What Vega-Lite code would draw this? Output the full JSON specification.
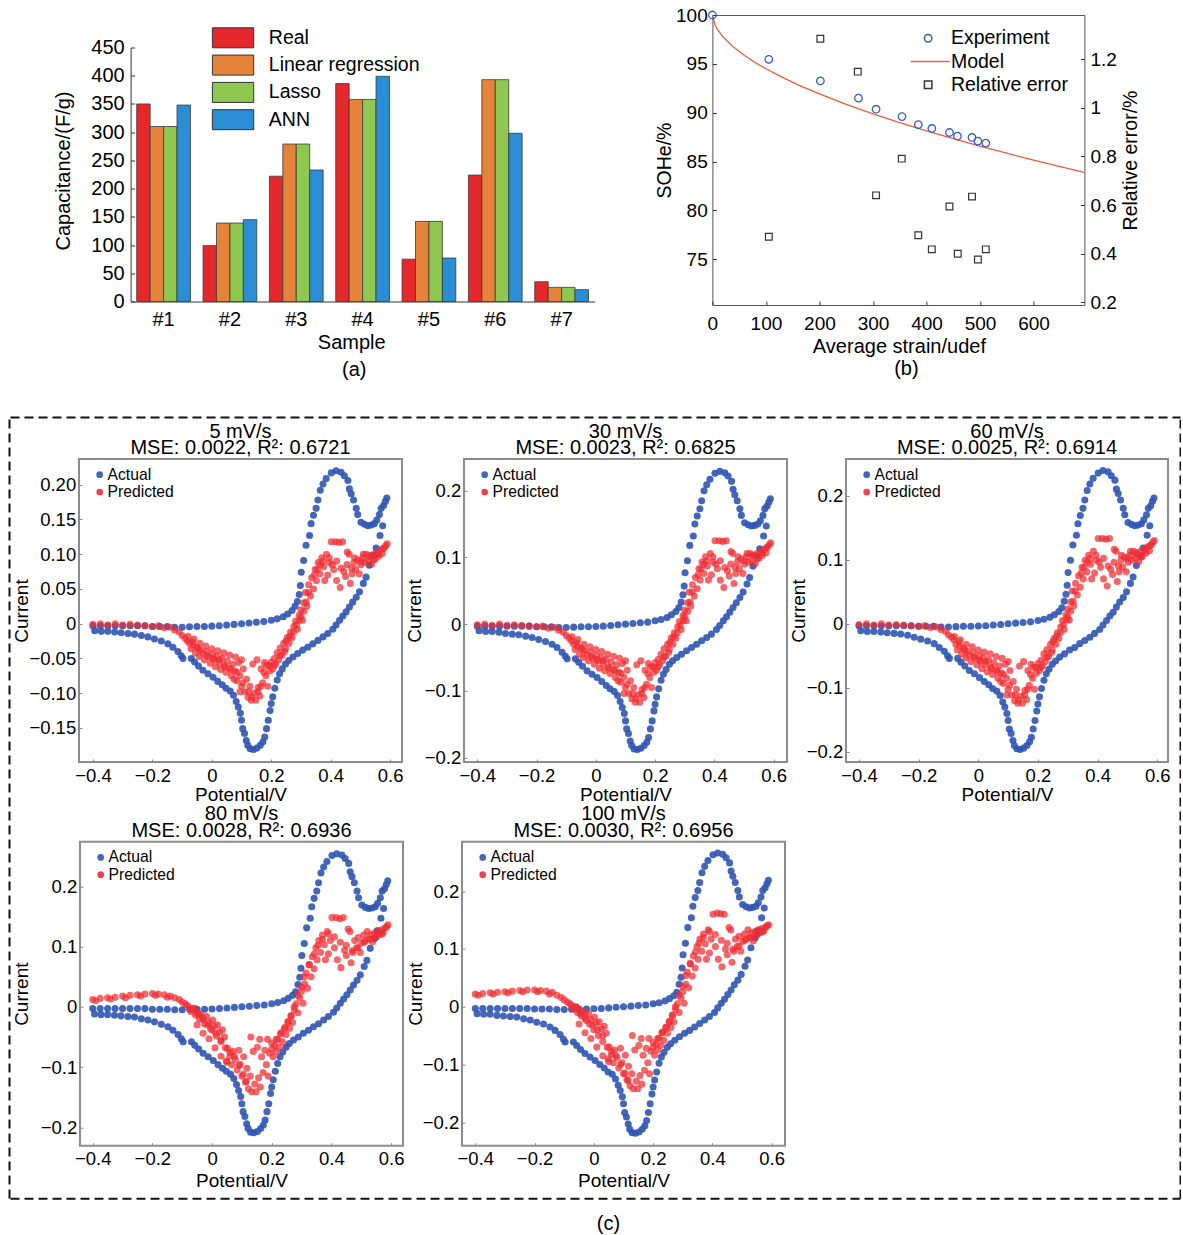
{
"$schema":"https://vega.github.io/schema/vega-lite/v6.json",
"background":"white",
"padding":{"left":9,"top":5,"right":0,"bottom":0},
"config":{
 "font":"Liberation Sans",
 "view":{"stroke":"#8c8c8c","strokeWidth":2},
 "axis":{"labelFont":"Liberation Sans","titleFont":"Liberation Sans","labelFontSize":18.5,"titleFontSize":19,"titleFontWeight":"normal","labelColor":"#000","titleColor":"#000","grid":false,"domain":false,"ticks":true,"tickSize":-3,"tickColor":"#888","labelPadding":6,"labelFlush":false,"labelOverlap":false,"titleBaseline":"middle"},
 "legend":{"labelFont":"Liberation Sans","labelColor":"#000","padding":0},
 "title":{"font":"Liberation Sans","fontSize":20,"fontWeight":"normal","color":"#000","lineHeight":16.5,"offset":1,"anchor":"middle","frame":"group"}
},
"datasets":{
"bars":[{"s":"#1","m":"Real","v":350},{"s":"#1","m":"Linear regression","v":310},{"s":"#1","m":"Lasso","v":310},{"s":"#1","m":"ANN","v":348},{"s":"#2","m":"Real","v":99},{"s":"#2","m":"Linear regression","v":139},{"s":"#2","m":"Lasso","v":139},{"s":"#2","m":"ANN","v":145},{"s":"#3","m":"Real","v":222},{"s":"#3","m":"Linear regression","v":279},{"s":"#3","m":"Lasso","v":279},{"s":"#3","m":"ANN","v":233},{"s":"#4","m":"Real","v":386},{"s":"#4","m":"Linear regression","v":358},{"s":"#4","m":"Lasso","v":358},{"s":"#4","m":"ANN","v":399},{"s":"#5","m":"Real","v":75},{"s":"#5","m":"Linear regression","v":142},{"s":"#5","m":"Lasso","v":142},{"s":"#5","m":"ANN","v":77},{"s":"#6","m":"Real","v":224},{"s":"#6","m":"Linear regression","v":393},{"s":"#6","m":"Lasso","v":393},{"s":"#6","m":"ANN","v":298},{"s":"#7","m":"Real","v":35},{"s":"#7","m":"Linear regression","v":25},{"s":"#7","m":"Lasso","v":25},{"s":"#7","m":"ANN","v":21}],
"exp":[{"x":0,"y":100},{"x":105.4,"y":95.47},{"x":201.7,"y":93.26},{"x":272.9,"y":91.49},{"x":305.8,"y":90.36},{"x":354.3,"y":89.61},{"x":384.7,"y":88.79},{"x":409.9,"y":88.39},{"x":442.9,"y":87.98},{"x":457.8,"y":87.6},{"x":485,"y":87.47},{"x":496,"y":87.09},{"x":510.8,"y":86.89}],
"err":[{"x":105.4,"e":0.47},{"x":201.7,"e":1.284},{"x":271.6,"e":1.149},{"x":305.8,"e":0.64},{"x":353.7,"e":0.791},{"x":384.7,"e":0.476},{"x":409.9,"e":0.418},{"x":442.9,"e":0.594},{"x":458.4,"e":0.4},{"x":485,"e":0.635},{"x":496,"e":0.376},{"x":510.8,"e":0.418}],
"model":[{"x":0,"y":100},{"x":5,"y":98.95},{"x":10,"y":98.47},{"x":20,"y":97.75},{"x":40,"y":96.69},{"x":60,"y":95.86},{"x":80,"y":95.14},{"x":100,"y":94.5},{"x":130,"y":93.64},{"x":160,"y":92.86},{"x":200,"y":91.93},{"x":250,"y":90.86},{"x":300,"y":89.89},{"x":350,"y":88.99},{"x":400,"y":88.15},{"x":450,"y":87.35},{"x":500,"y":86.58},{"x":550,"y":85.86},{"x":600,"y":85.16},{"x":650,"y":84.48},{"x":695,"y":83.9}],
"a1":[{"x":-0.4,"y":-0.003},{"x":-0.375,"y":-0.003},{"x":-0.35,"y":-0.003},{"x":-0.325,"y":-0.003},{"x":-0.3,"y":-0.003},{"x":-0.275,"y":-0.003},{"x":-0.25,"y":-0.003},{"x":-0.225,"y":-0.003},{"x":-0.2,"y":-0.004},{"x":-0.175,"y":-0.004},{"x":-0.15,"y":-0.004},{"x":-0.125,"y":-0.005},{"x":-0.1,"y":-0.005},{"x":-0.075,"y":-0.0045},{"x":-0.05,"y":-0.004},{"x":-0.025,"y":-0.004},{"x":0,"y":-0.0035},{"x":0.025,"y":-0.003},{"x":0.05,"y":-0.002},{"x":0.075,"y":-0.001},{"x":0.1,"y":0},{"x":0.125,"y":0.001},{"x":0.15,"y":0.002},{"x":0.175,"y":0.003},{"x":0.2,"y":0.005},{"x":0.22,"y":0.007},{"x":0.24,"y":0.01},{"x":0.255,"y":0.014},{"x":0.27,"y":0.019},{"x":0.28,"y":0.025},
{"x":0.288,"y":0.032},{"x":0.294,"y":0.042},{"x":0.298,"y":0.055},{"x":0.301,"y":0.074},{"x":0.309,"y":0.091},{"x":0.317,"y":0.113},{"x":0.329,"y":0.127},{"x":0.334,"y":0.144},{"x":0.342,"y":0.156},{"x":0.351,"y":0.166},{"x":0.357,"y":0.178},{"x":0.365,"y":0.192},{"x":0.374,"y":0.201},{"x":0.385,"y":0.209},{"x":0.402,"y":0.217},{"x":0.418,"y":0.22},{"x":0.435,"y":0.218},{"x":0.446,"y":0.213},{"x":0.458,"y":0.206},{"x":0.463,"y":0.194},{"x":0.469,"y":0.187},{"x":0.477,"y":0.178},{"x":0.486,"y":0.166},{"x":0.491,"y":0.157},{"x":0.502,"y":0.146},{"x":0.514,"y":0.143},{"x":0.525,"y":0.141},{"x":0.536,"y":0.142},{"x":0.547,"y":0.144},{"x":0.555,"y":0.149},{"x":0.564,"y":0.157},{"x":0.57,"y":0.166},{"x":0.578,"y":0.17},{"x":0.584,"y":0.176},{"x":0.589,"y":0.181},
{"x":0.575,"y":0.141},{"x":0.566,"y":0.127},{"x":0.553,"y":0.109},{"x":0.544,"y":0.098},{"x":0.53,"y":0.084},{"x":0.519,"y":0.067},{"x":0.51,"y":0.058},{"x":0.497,"y":0.046},{"x":0.486,"y":0.038},{"x":0.474,"y":0.031},{"x":0.463,"y":0.024},{"x":0.452,"y":0.017},{"x":0.441,"y":0.011},{"x":0.43,"y":0.005},{"x":0.418,"y":-0.002},{"x":0.407,"y":-0.008},{"x":0.39,"y":-0.014},{"x":0.374,"y":-0.019},{"x":0.357,"y":-0.024},{"x":0.34,"y":-0.029},{"x":0.323,"y":-0.034},{"x":0.306,"y":-0.038},{"x":0.289,"y":-0.043},{"x":0.273,"y":-0.048},{"x":0.259,"y":-0.053},{"x":0.248,"y":-0.058},{"x":0.237,"y":-0.065},{"x":0.228,"y":-0.072},{"x":0.22,"y":-0.081},{"x":0.212,"y":-0.093},{"x":0.205,"y":-0.105},{"x":0.2,"y":-0.115},{"x":0.196,"y":-0.125},{"x":0.19,"y":-0.139},{"x":0.184,"y":-0.151},{"x":0.178,"y":-0.163},{"x":0.172,"y":-0.17},{"x":0.163,"y":-0.175},{"x":0.152,"y":-0.179},{"x":0.14,"y":-0.181},{"x":0.129,"y":-0.18},{"x":0.121,"y":-0.175},{"x":0.116,"y":-0.168},{"x":0.11,"y":-0.158},{"x":0.104,"y":-0.151},{"x":0.1,"y":-0.139},{"x":0.096,"y":-0.129},{"x":0.089,"y":-0.12},{"x":0.082,"y":-0.112},{"x":0.073,"y":-0.103},{"x":0.062,"y":-0.097},{"x":0.048,"y":-0.093},{"x":0.035,"y":-0.088},{"x":0.02,"y":-0.083},{"x":0.004,"y":-0.077},{"x":-0.013,"y":-0.072},{"x":-0.03,"y":-0.067},{"x":-0.045,"y":-0.061},{"x":-0.058,"y":-0.055},{"x":-0.069,"y":-0.05},{"x":-0.097,"y":-0.05},{"x":-0.103,"y":-0.046},{"x":-0.114,"y":-0.04},{"x":-0.131,"y":-0.034},{"x":-0.148,"y":-0.029},{"x":-0.17,"y":-0.025},{"x":-0.193,"y":-0.022},{"x":-0.215,"y":-0.019},{"x":-0.237,"y":-0.017},{"x":-0.26,"y":-0.015},{"x":-0.282,"y":-0.014},{"x":-0.305,"y":-0.013},{"x":-0.327,"y":-0.012},{"x":-0.35,"y":-0.011},{"x":-0.372,"y":-0.011},{"x":-0.394,"y":-0.01}],
"a2":[{"x":-0.4,"y":-0.003},{"x":-0.375,"y":-0.003},{"x":-0.35,"y":-0.003},{"x":-0.325,"y":-0.003},{"x":-0.3,"y":-0.003},{"x":-0.275,"y":-0.003},{"x":-0.25,"y":-0.003},{"x":-0.225,"y":-0.003},{"x":-0.2,"y":-0.004},{"x":-0.175,"y":-0.004},{"x":-0.15,"y":-0.004},{"x":-0.125,"y":-0.005},{"x":-0.1,"y":-0.005},{"x":-0.075,"y":-0.0045},{"x":-0.05,"y":-0.004},{"x":-0.025,"y":-0.004},{"x":0,"y":-0.0035},{"x":0.025,"y":-0.003},{"x":0.05,"y":-0.002},{"x":0.075,"y":-0.001},{"x":0.1,"y":0},{"x":0.125,"y":0.001},{"x":0.15,"y":0.002},{"x":0.175,"y":0.003},{"x":0.2,"y":0.005},{"x":0.22,"y":0.007},{"x":0.24,"y":0.01},{"x":0.255,"y":0.014},{"x":0.27,"y":0.019},{"x":0.28,"y":0.025},
{"x":0.288,"y":0.033},{"x":0.294,"y":0.044},{"x":0.298,"y":0.057},{"x":0.301,"y":0.077},{"x":0.309,"y":0.095},{"x":0.317,"y":0.118},{"x":0.329,"y":0.132},{"x":0.334,"y":0.15},{"x":0.342,"y":0.162},{"x":0.351,"y":0.173},{"x":0.357,"y":0.185},{"x":0.365,"y":0.2},{"x":0.374,"y":0.209},{"x":0.385,"y":0.217},{"x":0.402,"y":0.226},{"x":0.418,"y":0.229},{"x":0.435,"y":0.227},{"x":0.446,"y":0.222},{"x":0.458,"y":0.214},{"x":0.463,"y":0.202},{"x":0.469,"y":0.194},{"x":0.477,"y":0.185},{"x":0.486,"y":0.173},{"x":0.491,"y":0.163},{"x":0.502,"y":0.152},{"x":0.514,"y":0.149},{"x":0.525,"y":0.147},{"x":0.536,"y":0.148},{"x":0.547,"y":0.15},{"x":0.555,"y":0.155},{"x":0.564,"y":0.163},{"x":0.57,"y":0.173},{"x":0.578,"y":0.177},{"x":0.584,"y":0.183},{"x":0.589,"y":0.188},
{"x":0.575,"y":0.147},{"x":0.566,"y":0.132},{"x":0.553,"y":0.113},{"x":0.544,"y":0.102},{"x":0.53,"y":0.087},{"x":0.519,"y":0.07},{"x":0.51,"y":0.06},{"x":0.497,"y":0.048},{"x":0.486,"y":0.04},{"x":0.474,"y":0.032},{"x":0.463,"y":0.025},{"x":0.452,"y":0.018},{"x":0.441,"y":0.011},{"x":0.43,"y":0.005},{"x":0.418,"y":-0.002},{"x":0.407,"y":-0.008},{"x":0.39,"y":-0.015},{"x":0.374,"y":-0.02},{"x":0.357,"y":-0.025},{"x":0.34,"y":-0.03},{"x":0.323,"y":-0.035},{"x":0.306,"y":-0.04},{"x":0.289,"y":-0.045},{"x":0.273,"y":-0.05},{"x":0.259,"y":-0.055},{"x":0.248,"y":-0.06},{"x":0.237,"y":-0.068},{"x":0.228,"y":-0.075},{"x":0.22,"y":-0.084},{"x":0.212,"y":-0.097},{"x":0.205,"y":-0.109},{"x":0.2,"y":-0.12},{"x":0.196,"y":-0.13},{"x":0.19,"y":-0.145},{"x":0.184,"y":-0.157},{"x":0.178,"y":-0.17},{"x":0.172,"y":-0.177},{"x":0.163,"y":-0.182},{"x":0.152,"y":-0.186},{"x":0.14,"y":-0.188},{"x":0.129,"y":-0.187},{"x":0.121,"y":-0.182},{"x":0.116,"y":-0.175},{"x":0.11,"y":-0.164},{"x":0.104,"y":-0.157},{"x":0.1,"y":-0.145},{"x":0.096,"y":-0.134},{"x":0.089,"y":-0.125},{"x":0.082,"y":-0.116},{"x":0.073,"y":-0.107},{"x":0.062,"y":-0.101},{"x":0.048,"y":-0.097},{"x":0.035,"y":-0.092},{"x":0.02,"y":-0.086},{"x":0.004,"y":-0.08},{"x":-0.013,"y":-0.075},{"x":-0.03,"y":-0.07},{"x":-0.045,"y":-0.063},{"x":-0.058,"y":-0.057},{"x":-0.069,"y":-0.052},{"x":-0.097,"y":-0.052},{"x":-0.103,"y":-0.048},{"x":-0.114,"y":-0.042},{"x":-0.131,"y":-0.035},{"x":-0.148,"y":-0.03},{"x":-0.17,"y":-0.026},{"x":-0.193,"y":-0.023},{"x":-0.215,"y":-0.02},{"x":-0.237,"y":-0.018},{"x":-0.26,"y":-0.016},{"x":-0.282,"y":-0.015},{"x":-0.305,"y":-0.014},{"x":-0.327,"y":-0.012},{"x":-0.35,"y":-0.011},{"x":-0.372,"y":-0.011},{"x":-0.394,"y":-0.01}],
"a3":[{"x":-0.4,"y":-0.003},{"x":-0.375,"y":-0.003},{"x":-0.35,"y":-0.003},{"x":-0.325,"y":-0.003},{"x":-0.3,"y":-0.003},{"x":-0.275,"y":-0.003},{"x":-0.25,"y":-0.003},{"x":-0.225,"y":-0.003},{"x":-0.2,"y":-0.004},{"x":-0.175,"y":-0.004},{"x":-0.15,"y":-0.004},{"x":-0.125,"y":-0.005},{"x":-0.1,"y":-0.005},{"x":-0.075,"y":-0.0045},{"x":-0.05,"y":-0.004},{"x":-0.025,"y":-0.004},{"x":0,"y":-0.0035},{"x":0.025,"y":-0.003},{"x":0.05,"y":-0.002},{"x":0.075,"y":-0.001},{"x":0.1,"y":0},{"x":0.125,"y":0.001},{"x":0.15,"y":0.002},{"x":0.175,"y":0.003},{"x":0.2,"y":0.005},{"x":0.22,"y":0.007},{"x":0.24,"y":0.01},{"x":0.255,"y":0.014},{"x":0.27,"y":0.019},{"x":0.28,"y":0.025},
{"x":0.288,"y":0.035},{"x":0.294,"y":0.046},{"x":0.298,"y":0.06},{"x":0.301,"y":0.08},{"x":0.309,"y":0.099},{"x":0.317,"y":0.123},{"x":0.329,"y":0.138},{"x":0.334,"y":0.156},{"x":0.342,"y":0.169},{"x":0.351,"y":0.18},{"x":0.357,"y":0.193},{"x":0.365,"y":0.208},{"x":0.374,"y":0.218},{"x":0.385,"y":0.227},{"x":0.402,"y":0.235},{"x":0.418,"y":0.239},{"x":0.435,"y":0.237},{"x":0.446,"y":0.231},{"x":0.458,"y":0.224},{"x":0.463,"y":0.21},{"x":0.469,"y":0.203},{"x":0.477,"y":0.193},{"x":0.486,"y":0.18},{"x":0.491,"y":0.17},{"x":0.502,"y":0.158},{"x":0.514,"y":0.155},{"x":0.525,"y":0.153},{"x":0.536,"y":0.154},{"x":0.547,"y":0.156},{"x":0.555,"y":0.162},{"x":0.564,"y":0.17},{"x":0.57,"y":0.18},{"x":0.578,"y":0.184},{"x":0.584,"y":0.191},{"x":0.589,"y":0.196},
{"x":0.575,"y":0.153},{"x":0.566,"y":0.138},{"x":0.553,"y":0.118},{"x":0.544,"y":0.106},{"x":0.53,"y":0.091},{"x":0.519,"y":0.073},{"x":0.51,"y":0.063},{"x":0.497,"y":0.05},{"x":0.486,"y":0.041},{"x":0.474,"y":0.034},{"x":0.463,"y":0.026},{"x":0.452,"y":0.018},{"x":0.441,"y":0.012},{"x":0.43,"y":0.005},{"x":0.418,"y":-0.002},{"x":0.407,"y":-0.009},{"x":0.39,"y":-0.015},{"x":0.374,"y":-0.021},{"x":0.357,"y":-0.026},{"x":0.34,"y":-0.031},{"x":0.323,"y":-0.037},{"x":0.306,"y":-0.041},{"x":0.289,"y":-0.047},{"x":0.273,"y":-0.052},{"x":0.259,"y":-0.058},{"x":0.248,"y":-0.063},{"x":0.237,"y":-0.071},{"x":0.228,"y":-0.078},{"x":0.22,"y":-0.088},{"x":0.212,"y":-0.101},{"x":0.205,"y":-0.114},{"x":0.2,"y":-0.125},{"x":0.196,"y":-0.136},{"x":0.19,"y":-0.151},{"x":0.184,"y":-0.164},{"x":0.178,"y":-0.177},{"x":0.172,"y":-0.184},{"x":0.163,"y":-0.19},{"x":0.152,"y":-0.194},{"x":0.14,"y":-0.196},{"x":0.129,"y":-0.195},{"x":0.121,"y":-0.19},{"x":0.116,"y":-0.182},{"x":0.11,"y":-0.171},{"x":0.104,"y":-0.164},{"x":0.1,"y":-0.151},{"x":0.096,"y":-0.14},{"x":0.089,"y":-0.13},{"x":0.082,"y":-0.122},{"x":0.073,"y":-0.112},{"x":0.062,"y":-0.105},{"x":0.048,"y":-0.101},{"x":0.035,"y":-0.095},{"x":0.02,"y":-0.09},{"x":0.004,"y":-0.084},{"x":-0.013,"y":-0.078},{"x":-0.03,"y":-0.073},{"x":-0.045,"y":-0.066},{"x":-0.058,"y":-0.06},{"x":-0.069,"y":-0.054},{"x":-0.097,"y":-0.054},{"x":-0.103,"y":-0.05},{"x":-0.114,"y":-0.043},{"x":-0.131,"y":-0.037},{"x":-0.148,"y":-0.031},{"x":-0.17,"y":-0.027},{"x":-0.193,"y":-0.024},{"x":-0.215,"y":-0.021},{"x":-0.237,"y":-0.018},{"x":-0.26,"y":-0.016},{"x":-0.282,"y":-0.015},{"x":-0.305,"y":-0.014},{"x":-0.327,"y":-0.013},{"x":-0.35,"y":-0.012},{"x":-0.372,"y":-0.012},{"x":-0.394,"y":-0.011}],
"a4":[{"x":-0.4,"y":-0.003},{"x":-0.375,"y":-0.003},{"x":-0.35,"y":-0.003},{"x":-0.325,"y":-0.003},{"x":-0.3,"y":-0.003},{"x":-0.275,"y":-0.003},{"x":-0.25,"y":-0.003},{"x":-0.225,"y":-0.003},{"x":-0.2,"y":-0.004},{"x":-0.175,"y":-0.004},{"x":-0.15,"y":-0.004},{"x":-0.125,"y":-0.005},{"x":-0.1,"y":-0.005},{"x":-0.075,"y":-0.0045},{"x":-0.05,"y":-0.004},{"x":-0.025,"y":-0.004},{"x":0,"y":-0.0035},{"x":0.025,"y":-0.003},{"x":0.05,"y":-0.002},{"x":0.075,"y":-0.001},{"x":0.1,"y":0},{"x":0.125,"y":0.001},{"x":0.15,"y":0.002},{"x":0.175,"y":0.003},{"x":0.2,"y":0.005},{"x":0.22,"y":0.007},{"x":0.24,"y":0.01},{"x":0.255,"y":0.014},{"x":0.27,"y":0.019},{"x":0.28,"y":0.025},
{"x":0.288,"y":0.037},{"x":0.294,"y":0.049},{"x":0.298,"y":0.064},{"x":0.301,"y":0.085},{"x":0.309,"y":0.105},{"x":0.317,"y":0.131},{"x":0.329,"y":0.147},{"x":0.334,"y":0.166},{"x":0.342,"y":0.18},{"x":0.351,"y":0.192},{"x":0.357,"y":0.206},{"x":0.365,"y":0.222},{"x":0.374,"y":0.232},{"x":0.385,"y":0.241},{"x":0.402,"y":0.251},{"x":0.418,"y":0.254},{"x":0.435,"y":0.252},{"x":0.446,"y":0.246},{"x":0.458,"y":0.238},{"x":0.463,"y":0.224},{"x":0.469,"y":0.216},{"x":0.477,"y":0.206},{"x":0.486,"y":0.192},{"x":0.491,"y":0.181},{"x":0.502,"y":0.169},{"x":0.514,"y":0.165},{"x":0.525,"y":0.163},{"x":0.536,"y":0.164},{"x":0.547,"y":0.166},{"x":0.555,"y":0.172},{"x":0.564,"y":0.181},{"x":0.57,"y":0.192},{"x":0.578,"y":0.196},{"x":0.584,"y":0.203},{"x":0.589,"y":0.209},
{"x":0.575,"y":0.163},{"x":0.566,"y":0.147},{"x":0.553,"y":0.126},{"x":0.544,"y":0.113},{"x":0.53,"y":0.097},{"x":0.519,"y":0.077},{"x":0.51,"y":0.067},{"x":0.497,"y":0.053},{"x":0.486,"y":0.044},{"x":0.474,"y":0.036},{"x":0.463,"y":0.028},{"x":0.452,"y":0.02},{"x":0.441,"y":0.013},{"x":0.43,"y":0.006},{"x":0.418,"y":-0.002},{"x":0.407,"y":-0.009},{"x":0.39,"y":-0.016},{"x":0.374,"y":-0.022},{"x":0.357,"y":-0.028},{"x":0.34,"y":-0.033},{"x":0.323,"y":-0.039},{"x":0.306,"y":-0.044},{"x":0.289,"y":-0.05},{"x":0.273,"y":-0.055},{"x":0.259,"y":-0.061},{"x":0.248,"y":-0.067},{"x":0.237,"y":-0.075},{"x":0.228,"y":-0.083},{"x":0.22,"y":-0.094},{"x":0.212,"y":-0.107},{"x":0.205,"y":-0.121},{"x":0.2,"y":-0.133},{"x":0.196,"y":-0.144},{"x":0.19,"y":-0.161},{"x":0.184,"y":-0.174},{"x":0.178,"y":-0.188},{"x":0.172,"y":-0.196},{"x":0.163,"y":-0.202},{"x":0.152,"y":-0.207},{"x":0.14,"y":-0.209},{"x":0.129,"y":-0.208},{"x":0.121,"y":-0.202},{"x":0.116,"y":-0.194},{"x":0.11,"y":-0.182},{"x":0.104,"y":-0.174},{"x":0.1,"y":-0.161},{"x":0.096,"y":-0.149},{"x":0.089,"y":-0.139},{"x":0.082,"y":-0.129},{"x":0.073,"y":-0.119},{"x":0.062,"y":-0.112},{"x":0.048,"y":-0.107},{"x":0.035,"y":-0.102},{"x":0.02,"y":-0.096},{"x":0.004,"y":-0.089},{"x":-0.013,"y":-0.083},{"x":-0.03,"y":-0.077},{"x":-0.045,"y":-0.07},{"x":-0.058,"y":-0.064},{"x":-0.069,"y":-0.058},{"x":-0.097,"y":-0.058},{"x":-0.103,"y":-0.053},{"x":-0.114,"y":-0.046},{"x":-0.131,"y":-0.039},{"x":-0.148,"y":-0.033},{"x":-0.17,"y":-0.029},{"x":-0.193,"y":-0.025},{"x":-0.215,"y":-0.022},{"x":-0.237,"y":-0.02},{"x":-0.26,"y":-0.017},{"x":-0.282,"y":-0.016},{"x":-0.305,"y":-0.015},{"x":-0.327,"y":-0.014},{"x":-0.35,"y":-0.013},{"x":-0.372,"y":-0.013},{"x":-0.394,"y":-0.012}],
"a5":[{"x":-0.4,"y":-0.003},{"x":-0.375,"y":-0.003},{"x":-0.35,"y":-0.003},{"x":-0.325,"y":-0.003},{"x":-0.3,"y":-0.003},{"x":-0.275,"y":-0.003},{"x":-0.25,"y":-0.003},{"x":-0.225,"y":-0.003},{"x":-0.2,"y":-0.004},{"x":-0.175,"y":-0.004},{"x":-0.15,"y":-0.004},{"x":-0.125,"y":-0.005},{"x":-0.1,"y":-0.005},{"x":-0.075,"y":-0.0045},{"x":-0.05,"y":-0.004},{"x":-0.025,"y":-0.004},{"x":0,"y":-0.0035},{"x":0.025,"y":-0.003},{"x":0.05,"y":-0.002},{"x":0.075,"y":-0.001},{"x":0.1,"y":0},{"x":0.125,"y":0.001},{"x":0.15,"y":0.002},{"x":0.175,"y":0.003},{"x":0.2,"y":0.005},{"x":0.22,"y":0.007},{"x":0.24,"y":0.01},{"x":0.255,"y":0.014},{"x":0.27,"y":0.019},{"x":0.28,"y":0.025},
{"x":0.288,"y":0.039},{"x":0.294,"y":0.051},{"x":0.298,"y":0.067},{"x":0.301,"y":0.09},{"x":0.309,"y":0.11},{"x":0.317,"y":0.137},{"x":0.329,"y":0.154},{"x":0.334,"y":0.174},{"x":0.342,"y":0.189},{"x":0.351,"y":0.201},{"x":0.357,"y":0.215},{"x":0.365,"y":0.232},{"x":0.374,"y":0.243},{"x":0.385,"y":0.253},{"x":0.402,"y":0.263},{"x":0.418,"y":0.266},{"x":0.435,"y":0.264},{"x":0.446,"y":0.258},{"x":0.458,"y":0.249},{"x":0.463,"y":0.235},{"x":0.469,"y":0.226},{"x":0.477,"y":0.215},{"x":0.486,"y":0.201},{"x":0.491,"y":0.19},{"x":0.502,"y":0.177},{"x":0.514,"y":0.173},{"x":0.525,"y":0.171},{"x":0.536,"y":0.172},{"x":0.547,"y":0.174},{"x":0.555,"y":0.18},{"x":0.564,"y":0.19},{"x":0.57,"y":0.201},{"x":0.578,"y":0.206},{"x":0.584,"y":0.213},{"x":0.589,"y":0.219},
{"x":0.575,"y":0.171},{"x":0.566,"y":0.154},{"x":0.553,"y":0.132},{"x":0.544,"y":0.119},{"x":0.53,"y":0.102},{"x":0.519,"y":0.081},{"x":0.51,"y":0.07},{"x":0.497,"y":0.056},{"x":0.486,"y":0.046},{"x":0.474,"y":0.038},{"x":0.463,"y":0.029},{"x":0.452,"y":0.021},{"x":0.441,"y":0.013},{"x":0.43,"y":0.006},{"x":0.418,"y":-0.002},{"x":0.407,"y":-0.01},{"x":0.39,"y":-0.017},{"x":0.374,"y":-0.023},{"x":0.357,"y":-0.029},{"x":0.34,"y":-0.035},{"x":0.323,"y":-0.041},{"x":0.306,"y":-0.046},{"x":0.289,"y":-0.052},{"x":0.273,"y":-0.058},{"x":0.259,"y":-0.064},{"x":0.248,"y":-0.07},{"x":0.237,"y":-0.079},{"x":0.228,"y":-0.087},{"x":0.22,"y":-0.098},{"x":0.212,"y":-0.113},{"x":0.205,"y":-0.127},{"x":0.2,"y":-0.139},{"x":0.196,"y":-0.151},{"x":0.19,"y":-0.168},{"x":0.184,"y":-0.183},{"x":0.178,"y":-0.197},{"x":0.172,"y":-0.206},{"x":0.163,"y":-0.212},{"x":0.152,"y":-0.217},{"x":0.14,"y":-0.219},{"x":0.129,"y":-0.218},{"x":0.121,"y":-0.212},{"x":0.116,"y":-0.203},{"x":0.11,"y":-0.191},{"x":0.104,"y":-0.183},{"x":0.1,"y":-0.168},{"x":0.096,"y":-0.156},{"x":0.089,"y":-0.145},{"x":0.082,"y":-0.136},{"x":0.073,"y":-0.125},{"x":0.062,"y":-0.117},{"x":0.048,"y":-0.113},{"x":0.035,"y":-0.106},{"x":0.02,"y":-0.1},{"x":0.004,"y":-0.093},{"x":-0.013,"y":-0.087},{"x":-0.03,"y":-0.081},{"x":-0.045,"y":-0.074},{"x":-0.058,"y":-0.067},{"x":-0.069,"y":-0.061},{"x":-0.097,"y":-0.061},{"x":-0.103,"y":-0.056},{"x":-0.114,"y":-0.048},{"x":-0.131,"y":-0.041},{"x":-0.148,"y":-0.035},{"x":-0.17,"y":-0.03},{"x":-0.193,"y":-0.027},{"x":-0.215,"y":-0.023},{"x":-0.237,"y":-0.021},{"x":-0.26,"y":-0.018},{"x":-0.282,"y":-0.017},{"x":-0.305,"y":-0.016},{"x":-0.327,"y":-0.015},{"x":-0.35,"y":-0.013},{"x":-0.372,"y":-0.013},{"x":-0.394,"y":-0.012}],
"p1":[{"x":-0.4,"y":-0.001},{"x":-0.375,"y":0},{"x":-0.35,"y":-0.002},{"x":-0.325,"y":0},{"x":-0.3,"y":-0.002},{"x":-0.275,"y":-0.001},{"x":-0.25,"y":-0.002},{"x":-0.225,"y":-0.003},{"x":-0.2,"y":-0.004},{"x":-0.18,"y":-0.003},{"x":-0.16,"y":-0.006},{"x":-0.14,"y":-0.005},{"x":-0.125,"y":-0.009},{"x":-0.11,"y":-0.012},{"x":-0.1,"y":-0.017},{"x":-0.09,"y":-0.021},{"x":-0.082,"y":-0.025},
{"x":-0.075,"y":-0.028},{"x":-0.07,"y":-0.036},{"x":-0.062,"y":-0.031},{"x":-0.055,"y":-0.042},{"x":-0.05,"y":-0.034},{"x":-0.042,"y":-0.047},{"x":-0.038,"y":-0.038},{"x":-0.03,"y":-0.043},{"x":-0.025,"y":-0.052},{"x":-0.018,"y":-0.04},{"x":-0.01,"y":-0.048},{"x":-0.005,"y":-0.057},{"x":0.002,"y":-0.044},{"x":0.008,"y":-0.052},{"x":0.012,"y":-0.062},{"x":0.018,"y":-0.047},{"x":0.025,"y":-0.057},{"x":0.03,"y":-0.066},{"x":0.035,"y":-0.05},{"x":0.042,"y":-0.06},{"x":0.048,"y":-0.07},{"x":0.052,"y":-0.054},{"x":0.06,"y":-0.064},{"x":0.066,"y":-0.075},{"x":0.07,"y":-0.058},{"x":0.078,"y":-0.068},{"x":0.084,"y":-0.082},{"x":0.09,"y":-0.056},{"x":0.095,"y":-0.075},{"x":0.1,"y":-0.09},{"x":0.106,"y":-0.065},{"x":0.112,"y":-0.098},{"x":0.117,"y":-0.08},{"x":0.122,"y":-0.106},{"x":0.128,"y":-0.09},{"x":0.133,"y":-0.11},{"x":0.138,"y":-0.058},{"x":0.143,"y":-0.1},{"x":0.148,"y":-0.11},{"x":0.152,"y":-0.052},{"x":0.156,"y":-0.092},{"x":0.162,"y":-0.104},{"x":0.166,"y":-0.065},{"x":0.171,"y":-0.085},{"x":0.177,"y":-0.056},{"x":0.182,"y":-0.075},{"x":0.188,"y":-0.09},{"x":0.193,"y":-0.06},{"x":0.2,"y":-0.055},{"x":0.205,"y":-0.065},{"x":0.21,"y":-0.05},{"x":0.215,"y":-0.058},{"x":0.22,"y":-0.042},{"x":0.225,"y":-0.052},{"x":0.23,"y":-0.035},{"x":0.236,"y":-0.045},{"x":0.242,"y":-0.028},{"x":0.248,"y":-0.036},{"x":0.254,"y":-0.02},{"x":0.26,"y":-0.028},{"x":0.265,"y":-0.012},{"x":0.27,"y":-0.02},{"x":0.276,"y":-0.004},{"x":0.282,"y":0.004},{"x":0.288,"y":-0.008},{"x":0.294,"y":0.012},{"x":0.3,"y":0.02},{"x":0.305,"y":0.005},{"x":0.31,"y":0.03},
{"x":0.315,"y":0.045},{"x":0.32,"y":0.025},{"x":0.326,"y":0.056},{"x":0.332,"y":0.04},{"x":0.336,"y":0.066},{"x":0.342,"y":0.05},{"x":0.348,"y":0.078},{"x":0.352,"y":0.062},{"x":0.358,"y":0.088},{"x":0.364,"y":0.072},{"x":0.37,"y":0.095},{"x":0.376,"y":0.082},{"x":0.38,"y":0.062},{"x":0.386,"y":0.1},{"x":0.39,"y":0.07},{"x":0.396,"y":0.088},{"x":0.402,"y":0.118},{"x":0.41,"y":0.078},{"x":0.416,"y":0.118},{"x":0.42,"y":0.062},{"x":0.428,"y":0.117},{"x":0.432,"y":0.052},{"x":0.44,"y":0.118},{"x":0.444,"y":0.075},{"x":0.45,"y":0.068},{"x":0.456,"y":0.103},{"x":0.462,"y":0.1},{"x":0.466,"y":0.058},{"x":0.472,"y":0.072},{"x":0.478,"y":0.088},{"x":0.484,"y":0.078},{"x":0.49,"y":0.092},{"x":0.496,"y":0.072},{"x":0.502,"y":0.085},{"x":0.508,"y":0.095},{"x":0.514,"y":0.088},{"x":0.52,"y":0.1},{"x":0.526,"y":0.09},{"x":0.532,"y":0.096},{"x":0.538,"y":0.086},{"x":0.544,"y":0.1},{"x":0.55,"y":0.093},{"x":0.556,"y":0.103},{"x":0.562,"y":0.097},{"x":0.568,"y":0.106},{"x":0.574,"y":0.101},{"x":0.58,"y":0.109},{"x":0.585,"y":0.112},{"x":0.59,"y":0.115},
{"x":-0.08,"y":-0.018},{"x":-0.06,"y":-0.022},{"x":-0.04,"y":-0.028},{"x":-0.02,"y":-0.032},{"x":0,"y":-0.036},{"x":0.02,"y":-0.039},{"x":0.04,"y":-0.042},{"x":0.06,"y":-0.045},{"x":0.08,"y":-0.048},{"x":0.1,"y":-0.052},{"x":-0.065,"y":-0.026},{"x":-0.045,"y":-0.036},{"x":-0.015,"y":-0.046},{"x":0.005,"y":-0.05},{"x":0.025,"y":-0.052},{"x":0.045,"y":-0.062},{"x":0.065,"y":-0.066},{"x":0.075,"y":-0.08},{"x":0.085,"y":-0.07},{"x":0.095,"y":-0.098},{"x":0.105,"y":-0.085},{"x":0.125,"y":-0.098},{"x":0.135,"y":-0.105},{"x":0.155,"y":-0.098},{"x":0.165,"y":-0.09},{"x":0.175,"y":-0.07},{"x":0.185,"y":-0.06},{"x":0.195,"y":-0.068},{"x":0.21,"y":-0.06},{"x":0.23,"y":-0.046},{"x":0.245,"y":-0.04},{"x":0.25,"y":-0.025},{"x":0.262,"y":-0.018},{"x":0.275,"y":-0.012},{"x":0.285,"y":-0.002},{"x":0.295,"y":0.005},{"x":0.3,"y":0.01},{"x":0.31,"y":0.018},{"x":0.318,"y":0.031},{"x":0.325,"y":0.045},{"x":0.345,"y":0.07},{"x":0.355,"y":0.078},{"x":0.365,"y":0.085},{"x":0.375,"y":0.09},{"x":0.395,"y":0.095},{"x":0.405,"y":0.085},{"x":0.42,"y":0.09},{"x":0.435,"y":0.08},{"x":0.455,"y":0.085},{"x":0.47,"y":0.08},{"x":0.48,"y":0.095},{"x":0.5,"y":0.09},{"x":0.51,"y":0.1},{"x":0.53,"y":0.098},{"x":0.545,"y":0.092},{"x":0.56,"y":0.1},{"x":0.575,"y":0.108}],
"p2":[{"x":-0.4,"y":-0.001},{"x":-0.375,"y":0},{"x":-0.35,"y":-0.002},{"x":-0.325,"y":0},{"x":-0.3,"y":-0.002},{"x":-0.275,"y":-0.001},{"x":-0.25,"y":-0.002},{"x":-0.225,"y":-0.003},{"x":-0.2,"y":-0.004},{"x":-0.18,"y":-0.003},{"x":-0.16,"y":-0.006},{"x":-0.14,"y":-0.005},{"x":-0.125,"y":-0.009},{"x":-0.11,"y":-0.012},{"x":-0.1,"y":-0.017},{"x":-0.09,"y":-0.021},{"x":-0.082,"y":-0.025},
{"x":-0.075,"y":-0.03},{"x":-0.07,"y":-0.038},{"x":-0.062,"y":-0.033},{"x":-0.055,"y":-0.045},{"x":-0.05,"y":-0.036},{"x":-0.042,"y":-0.05},{"x":-0.038,"y":-0.04},{"x":-0.03,"y":-0.046},{"x":-0.025,"y":-0.055},{"x":-0.018,"y":-0.042},{"x":-0.01,"y":-0.051},{"x":-0.005,"y":-0.06},{"x":0.002,"y":-0.047},{"x":0.008,"y":-0.055},{"x":0.012,"y":-0.066},{"x":0.018,"y":-0.05},{"x":0.025,"y":-0.06},{"x":0.03,"y":-0.07},{"x":0.035,"y":-0.053},{"x":0.042,"y":-0.064},{"x":0.048,"y":-0.074},{"x":0.052,"y":-0.057},{"x":0.06,"y":-0.068},{"x":0.066,"y":-0.08},{"x":0.07,"y":-0.061},{"x":0.078,"y":-0.072},{"x":0.084,"y":-0.087},{"x":0.09,"y":-0.059},{"x":0.095,"y":-0.08},{"x":0.1,"y":-0.095},{"x":0.106,"y":-0.069},{"x":0.112,"y":-0.104},{"x":0.117,"y":-0.085},{"x":0.122,"y":-0.112},{"x":0.128,"y":-0.095},{"x":0.133,"y":-0.117},{"x":0.138,"y":-0.061},{"x":0.143,"y":-0.106},{"x":0.148,"y":-0.117},{"x":0.152,"y":-0.055},{"x":0.156,"y":-0.098},{"x":0.162,"y":-0.11},{"x":0.166,"y":-0.069},{"x":0.171,"y":-0.09},{"x":0.177,"y":-0.059},{"x":0.182,"y":-0.08},{"x":0.188,"y":-0.095},{"x":0.193,"y":-0.064},{"x":0.2,"y":-0.058},{"x":0.205,"y":-0.069},{"x":0.21,"y":-0.053},{"x":0.215,"y":-0.061},{"x":0.22,"y":-0.045},{"x":0.225,"y":-0.055},{"x":0.23,"y":-0.037},{"x":0.236,"y":-0.048},{"x":0.242,"y":-0.03},{"x":0.248,"y":-0.038},{"x":0.254,"y":-0.021},{"x":0.26,"y":-0.03},{"x":0.265,"y":-0.013},{"x":0.27,"y":-0.021},{"x":0.276,"y":-0.004},{"x":0.282,"y":0.004},{"x":0.288,"y":-0.008},{"x":0.294,"y":0.013},{"x":0.3,"y":0.021},{"x":0.305,"y":0.005},{"x":0.31,"y":0.032},
{"x":0.315,"y":0.048},{"x":0.32,"y":0.027},{"x":0.326,"y":0.059},{"x":0.332,"y":0.042},{"x":0.336,"y":0.07},{"x":0.342,"y":0.053},{"x":0.348,"y":0.083},{"x":0.352,"y":0.066},{"x":0.358,"y":0.093},{"x":0.364,"y":0.076},{"x":0.37,"y":0.101},{"x":0.376,"y":0.087},{"x":0.38,"y":0.066},{"x":0.386,"y":0.106},{"x":0.39,"y":0.074},{"x":0.396,"y":0.093},{"x":0.402,"y":0.125},{"x":0.41,"y":0.083},{"x":0.416,"y":0.125},{"x":0.42,"y":0.066},{"x":0.428,"y":0.124},{"x":0.432,"y":0.055},{"x":0.44,"y":0.125},{"x":0.444,"y":0.08},{"x":0.45,"y":0.072},{"x":0.456,"y":0.109},{"x":0.462,"y":0.106},{"x":0.466,"y":0.061},{"x":0.472,"y":0.076},{"x":0.478,"y":0.093},{"x":0.484,"y":0.083},{"x":0.49,"y":0.098},{"x":0.496,"y":0.076},{"x":0.502,"y":0.09},{"x":0.508,"y":0.101},{"x":0.514,"y":0.093},{"x":0.52,"y":0.106},{"x":0.526,"y":0.095},{"x":0.532,"y":0.102},{"x":0.538,"y":0.091},{"x":0.544,"y":0.106},{"x":0.55,"y":0.099},{"x":0.556,"y":0.109},{"x":0.562,"y":0.103},{"x":0.568,"y":0.112},{"x":0.574,"y":0.107},{"x":0.58,"y":0.116},{"x":0.585,"y":0.119},{"x":0.59,"y":0.122},
{"x":-0.08,"y":-0.019},{"x":-0.06,"y":-0.023},{"x":-0.04,"y":-0.03},{"x":-0.02,"y":-0.034},{"x":0,"y":-0.038},{"x":0.02,"y":-0.041},{"x":0.04,"y":-0.045},{"x":0.06,"y":-0.048},{"x":0.08,"y":-0.051},{"x":0.1,"y":-0.055},{"x":-0.065,"y":-0.028},{"x":-0.045,"y":-0.038},{"x":-0.015,"y":-0.049},{"x":0.005,"y":-0.053},{"x":0.025,"y":-0.055},{"x":0.045,"y":-0.066},{"x":0.065,"y":-0.07},{"x":0.075,"y":-0.085},{"x":0.085,"y":-0.074},{"x":0.095,"y":-0.104},{"x":0.105,"y":-0.09},{"x":0.125,"y":-0.104},{"x":0.135,"y":-0.111},{"x":0.155,"y":-0.104},{"x":0.165,"y":-0.095},{"x":0.175,"y":-0.074},{"x":0.185,"y":-0.064},{"x":0.195,"y":-0.072},{"x":0.21,"y":-0.064},{"x":0.23,"y":-0.049},{"x":0.245,"y":-0.042},{"x":0.25,"y":-0.027},{"x":0.262,"y":-0.019},{"x":0.275,"y":-0.013},{"x":0.285,"y":-0.002},{"x":0.295,"y":0.005},{"x":0.3,"y":0.011},{"x":0.31,"y":0.019},{"x":0.318,"y":0.033},{"x":0.325,"y":0.048},{"x":0.345,"y":0.074},{"x":0.355,"y":0.083},{"x":0.365,"y":0.09},{"x":0.375,"y":0.095},{"x":0.395,"y":0.101},{"x":0.405,"y":0.09},{"x":0.42,"y":0.095},{"x":0.435,"y":0.085},{"x":0.455,"y":0.09},{"x":0.47,"y":0.085},{"x":0.48,"y":0.101},{"x":0.5,"y":0.095},{"x":0.51,"y":0.106},{"x":0.53,"y":0.104},{"x":0.545,"y":0.098},{"x":0.56,"y":0.106},{"x":0.575,"y":0.114}],
"p3":[{"x":-0.4,"y":-0.001},{"x":-0.375,"y":0},{"x":-0.35,"y":-0.002},{"x":-0.325,"y":0},{"x":-0.3,"y":-0.002},{"x":-0.275,"y":-0.001},{"x":-0.25,"y":-0.002},{"x":-0.225,"y":-0.003},{"x":-0.2,"y":-0.004},{"x":-0.18,"y":-0.003},{"x":-0.16,"y":-0.006},{"x":-0.14,"y":-0.005},{"x":-0.125,"y":-0.009},{"x":-0.11,"y":-0.012},{"x":-0.1,"y":-0.017},{"x":-0.09,"y":-0.021},{"x":-0.082,"y":-0.025},
{"x":-0.075,"y":-0.032},{"x":-0.07,"y":-0.041},{"x":-0.062,"y":-0.035},{"x":-0.055,"y":-0.047},{"x":-0.05,"y":-0.038},{"x":-0.042,"y":-0.053},{"x":-0.038,"y":-0.043},{"x":-0.03,"y":-0.049},{"x":-0.025,"y":-0.059},{"x":-0.018,"y":-0.045},{"x":-0.01,"y":-0.054},{"x":-0.005,"y":-0.064},{"x":0.002,"y":-0.05},{"x":0.008,"y":-0.059},{"x":0.012,"y":-0.07},{"x":0.018,"y":-0.053},{"x":0.025,"y":-0.064},{"x":0.03,"y":-0.075},{"x":0.035,"y":-0.057},{"x":0.042,"y":-0.068},{"x":0.048,"y":-0.079},{"x":0.052,"y":-0.061},{"x":0.06,"y":-0.072},{"x":0.066,"y":-0.085},{"x":0.07,"y":-0.066},{"x":0.078,"y":-0.077},{"x":0.084,"y":-0.093},{"x":0.09,"y":-0.063},{"x":0.095,"y":-0.085},{"x":0.1,"y":-0.102},{"x":0.106,"y":-0.073},{"x":0.112,"y":-0.111},{"x":0.117,"y":-0.09},{"x":0.122,"y":-0.12},{"x":0.128,"y":-0.102},{"x":0.133,"y":-0.124},{"x":0.138,"y":-0.066},{"x":0.143,"y":-0.113},{"x":0.148,"y":-0.124},{"x":0.152,"y":-0.059},{"x":0.156,"y":-0.104},{"x":0.162,"y":-0.118},{"x":0.166,"y":-0.073},{"x":0.171,"y":-0.096},{"x":0.177,"y":-0.063},{"x":0.182,"y":-0.085},{"x":0.188,"y":-0.102},{"x":0.193,"y":-0.068},{"x":0.2,"y":-0.062},{"x":0.205,"y":-0.073},{"x":0.21,"y":-0.057},{"x":0.215,"y":-0.066},{"x":0.22,"y":-0.047},{"x":0.225,"y":-0.059},{"x":0.23,"y":-0.04},{"x":0.236,"y":-0.051},{"x":0.242,"y":-0.032},{"x":0.248,"y":-0.041},{"x":0.254,"y":-0.023},{"x":0.26,"y":-0.032},{"x":0.265,"y":-0.014},{"x":0.27,"y":-0.023},{"x":0.276,"y":-0.005},{"x":0.282,"y":0.005},{"x":0.288,"y":-0.009},{"x":0.294,"y":0.014},{"x":0.3,"y":0.023},{"x":0.305,"y":0.006},{"x":0.31,"y":0.034},
{"x":0.315,"y":0.051},{"x":0.32,"y":0.028},{"x":0.326,"y":0.063},{"x":0.332,"y":0.045},{"x":0.336,"y":0.075},{"x":0.342,"y":0.057},{"x":0.348,"y":0.088},{"x":0.352,"y":0.07},{"x":0.358,"y":0.099},{"x":0.364,"y":0.081},{"x":0.37,"y":0.107},{"x":0.376,"y":0.093},{"x":0.38,"y":0.07},{"x":0.386,"y":0.113},{"x":0.39,"y":0.079},{"x":0.396,"y":0.099},{"x":0.402,"y":0.133},{"x":0.41,"y":0.088},{"x":0.416,"y":0.133},{"x":0.42,"y":0.07},{"x":0.428,"y":0.132},{"x":0.432,"y":0.059},{"x":0.44,"y":0.133},{"x":0.444,"y":0.085},{"x":0.45,"y":0.077},{"x":0.456,"y":0.116},{"x":0.462,"y":0.113},{"x":0.466,"y":0.066},{"x":0.472,"y":0.081},{"x":0.478,"y":0.099},{"x":0.484,"y":0.088},{"x":0.49,"y":0.104},{"x":0.496,"y":0.081},{"x":0.502,"y":0.096},{"x":0.508,"y":0.107},{"x":0.514,"y":0.099},{"x":0.52,"y":0.113},{"x":0.526,"y":0.102},{"x":0.532,"y":0.108},{"x":0.538,"y":0.097},{"x":0.544,"y":0.113},{"x":0.55,"y":0.105},{"x":0.556,"y":0.116},{"x":0.562,"y":0.11},{"x":0.568,"y":0.12},{"x":0.574,"y":0.114},{"x":0.58,"y":0.123},{"x":0.585,"y":0.127},{"x":0.59,"y":0.13},
{"x":-0.08,"y":-0.02},{"x":-0.06,"y":-0.025},{"x":-0.04,"y":-0.032},{"x":-0.02,"y":-0.036},{"x":0,"y":-0.041},{"x":0.02,"y":-0.044},{"x":0.04,"y":-0.047},{"x":0.06,"y":-0.051},{"x":0.08,"y":-0.054},{"x":0.1,"y":-0.059},{"x":-0.065,"y":-0.029},{"x":-0.045,"y":-0.041},{"x":-0.015,"y":-0.052},{"x":0.005,"y":-0.057},{"x":0.025,"y":-0.059},{"x":0.045,"y":-0.07},{"x":0.065,"y":-0.075},{"x":0.075,"y":-0.09},{"x":0.085,"y":-0.079},{"x":0.095,"y":-0.111},{"x":0.105,"y":-0.096},{"x":0.125,"y":-0.111},{"x":0.135,"y":-0.119},{"x":0.155,"y":-0.111},{"x":0.165,"y":-0.102},{"x":0.175,"y":-0.079},{"x":0.185,"y":-0.068},{"x":0.195,"y":-0.077},{"x":0.21,"y":-0.068},{"x":0.23,"y":-0.052},{"x":0.245,"y":-0.045},{"x":0.25,"y":-0.028},{"x":0.262,"y":-0.02},{"x":0.275,"y":-0.014},{"x":0.285,"y":-0.002},{"x":0.295,"y":0.006},{"x":0.3,"y":0.011},{"x":0.31,"y":0.02},{"x":0.318,"y":0.035},{"x":0.325,"y":0.051},{"x":0.345,"y":0.079},{"x":0.355,"y":0.088},{"x":0.365,"y":0.096},{"x":0.375,"y":0.102},{"x":0.395,"y":0.107},{"x":0.405,"y":0.096},{"x":0.42,"y":0.102},{"x":0.435,"y":0.09},{"x":0.455,"y":0.096},{"x":0.47,"y":0.09},{"x":0.48,"y":0.107},{"x":0.5,"y":0.102},{"x":0.51,"y":0.113},{"x":0.53,"y":0.111},{"x":0.545,"y":0.104},{"x":0.56,"y":0.113},{"x":0.575,"y":0.122}],
"p4":[{"x":-0.4,"y":0.012},{"x":-0.375,"y":0.014},{"x":-0.35,"y":0.015},{"x":-0.325,"y":0.016},{"x":-0.3,"y":0.018},{"x":-0.275,"y":0.019},{"x":-0.25,"y":0.02},{"x":-0.225,"y":0.021},{"x":-0.2,"y":0.022},{"x":-0.18,"y":0.021},{"x":-0.16,"y":0.02},{"x":-0.14,"y":0.018},{"x":-0.125,"y":0.015},{"x":-0.11,"y":0.012},{"x":-0.1,"y":0.008},{"x":-0.09,"y":0.005},{"x":-0.082,"y":0.002},{"x":-0.39,"y":0.01},{"x":-0.34,"y":0.013},{"x":-0.29,"y":0.015},{"x":-0.24,"y":0.018},{"x":-0.19,"y":0.019},{"x":-0.15,"y":0.016},
{"x":-0.075,"y":-0.002},{"x":-0.07,"y":-0.008},{"x":-0.062,"y":-0.004},{"x":-0.055,"y":-0.014},{"x":-0.05,"y":-0.009},{"x":-0.042,"y":-0.02},{"x":-0.038,"y":-0.012},{"x":-0.03,"y":-0.018},{"x":-0.025,"y":-0.028},{"x":-0.018,"y":-0.016},{"x":-0.01,"y":-0.026},{"x":-0.005,"y":-0.036},{"x":0.002,"y":-0.022},{"x":0.008,"y":-0.032},{"x":0.012,"y":-0.044},{"x":0.018,"y":-0.03},{"x":0.025,"y":-0.042},{"x":0.03,"y":-0.055},{"x":0.035,"y":-0.038},{"x":0.042,"y":-0.05},{"x":0.048,"y":-0.09},{"x":0.052,"y":-0.069},{"x":0.06,"y":-0.082},{"x":0.066,"y":-0.096},{"x":0.07,"y":-0.074},{"x":0.078,"y":-0.087},{"x":0.084,"y":-0.105},{"x":0.09,"y":-0.072},{"x":0.095,"y":-0.096},{"x":0.1,"y":-0.115},{"x":0.106,"y":-0.083},{"x":0.112,"y":-0.125},{"x":0.117,"y":-0.102},{"x":0.122,"y":-0.136},{"x":0.128,"y":-0.115},{"x":0.133,"y":-0.141},{"x":0.138,"y":-0.074},{"x":0.143,"y":-0.128},{"x":0.148,"y":-0.141},{"x":0.152,"y":-0.067},{"x":0.156,"y":-0.118},{"x":0.162,"y":-0.133},{"x":0.166,"y":-0.083},{"x":0.171,"y":-0.109},{"x":0.177,"y":-0.072},{"x":0.182,"y":-0.096},{"x":0.188,"y":-0.115},{"x":0.193,"y":-0.077},{"x":0.2,"y":-0.07},{"x":0.205,"y":-0.083},{"x":0.21,"y":-0.064},{"x":0.215,"y":-0.074},{"x":0.22,"y":-0.054},{"x":0.225,"y":-0.067},{"x":0.23,"y":-0.045},{"x":0.236,"y":-0.058},{"x":0.242,"y":-0.036},{"x":0.248,"y":-0.046},{"x":0.254,"y":-0.026},{"x":0.26,"y":-0.036},{"x":0.265,"y":-0.015},{"x":0.27,"y":-0.026},{"x":0.276,"y":-0.005},{"x":0.282,"y":0.005},{"x":0.288,"y":-0.01},{"x":0.294,"y":0.015},{"x":0.3,"y":0.026},{"x":0.305,"y":0.006},{"x":0.31,"y":0.038},
{"x":0.315,"y":0.056},{"x":0.32,"y":0.031},{"x":0.326,"y":0.07},{"x":0.332,"y":0.05},{"x":0.336,"y":0.083},{"x":0.342,"y":0.063},{"x":0.348,"y":0.098},{"x":0.352,"y":0.078},{"x":0.358,"y":0.11},{"x":0.364,"y":0.09},{"x":0.37,"y":0.119},{"x":0.376,"y":0.103},{"x":0.38,"y":0.078},{"x":0.386,"y":0.125},{"x":0.39,"y":0.088},{"x":0.396,"y":0.11},{"x":0.402,"y":0.148},{"x":0.41,"y":0.098},{"x":0.416,"y":0.148},{"x":0.42,"y":0.078},{"x":0.428,"y":0.146},{"x":0.432,"y":0.065},{"x":0.44,"y":0.148},{"x":0.444,"y":0.094},{"x":0.45,"y":0.085},{"x":0.456,"y":0.129},{"x":0.462,"y":0.125},{"x":0.466,"y":0.073},{"x":0.472,"y":0.09},{"x":0.478,"y":0.11},{"x":0.484,"y":0.098},{"x":0.49,"y":0.115},{"x":0.496,"y":0.09},{"x":0.502,"y":0.106},{"x":0.508,"y":0.119},{"x":0.514,"y":0.11},{"x":0.52,"y":0.125},{"x":0.526,"y":0.113},{"x":0.532,"y":0.12},{"x":0.538,"y":0.108},{"x":0.544,"y":0.122},{"x":0.55,"y":0.116},{"x":0.556,"y":0.126},{"x":0.562,"y":0.12},{"x":0.568,"y":0.128},{"x":0.574,"y":0.124},{"x":0.58,"y":0.131},{"x":0.585,"y":0.133},{"x":0.59,"y":0.136},
{"x":-0.06,"y":-0.002},{"x":-0.045,"y":-0.013},{"x":-0.03,"y":-0.021},{"x":-0.015,"y":-0.03},{"x":0,"y":-0.039},{"x":0.015,"y":-0.049},{"x":0.03,"y":-0.058},{"x":0.045,"y":-0.068},{"x":0.06,"y":-0.076},{"x":0.075,"y":-0.082},{"x":0.09,"y":-0.097},{"x":0.105,"y":-0.112},{"x":0.115,"y":-0.124},{"x":-0.05,"y":-0.03},{"x":-0.03,"y":-0.044},{"x":-0.01,"y":-0.053},{"x":0.01,"y":-0.068},{"x":0.03,"y":-0.082},{"x":0.05,"y":-0.092},{"x":0.13,"y":-0.05},{"x":0.16,"y":-0.054},{"x":0.186,"y":-0.054},{"x":0.2,"y":-0.06},{"x":0.215,"y":-0.054},{"x":0.231,"y":-0.043},{"x":0.245,"y":-0.034},{"x":0.255,"y":-0.024},{"x":0.265,"y":-0.015},{"x":0.275,"y":0},{"x":0.288,"y":0.019},{"x":0.3,"y":0.033},{"x":0.31,"y":0.05},{"x":0.325,"y":0.07},{"x":0.343,"y":0.088},{"x":0.355,"y":0.102},{"x":0.37,"y":0.112},{"x":0.39,"y":0.121},{"x":0.41,"y":0.116},{"x":0.43,"y":0.107},{"x":0.45,"y":0.102},{"x":0.47,"y":0.093},{"x":0.49,"y":0.098},{"x":0.51,"y":0.107},{"x":0.53,"y":0.112},{"x":0.55,"y":0.116},{"x":0.57,"y":0.121}],
"p5":[{"x":-0.4,"y":0.022},{"x":-0.375,"y":0.023},{"x":-0.35,"y":0.024},{"x":-0.325,"y":0.025},{"x":-0.3,"y":0.026},{"x":-0.275,"y":0.027},{"x":-0.25,"y":0.028},{"x":-0.225,"y":0.029},{"x":-0.2,"y":0.029},{"x":-0.18,"y":0.028},{"x":-0.16,"y":0.027},{"x":-0.14,"y":0.025},{"x":-0.125,"y":0.02},{"x":-0.11,"y":0.016},{"x":-0.1,"y":0.012},{"x":-0.09,"y":0.008},{"x":-0.08,"y":0.005},{"x":-0.39,"y":0.02},{"x":-0.34,"y":0.022},{"x":-0.29,"y":0.024},{"x":-0.24,"y":0.026},{"x":-0.19,"y":0.026},{"x":-0.15,"y":0.022},
{"x":-0.075,"y":0.002},{"x":-0.07,"y":-0.004},{"x":-0.062,"y":0},{"x":-0.055,"y":-0.01},{"x":-0.05,"y":-0.005},{"x":-0.042,"y":-0.016},{"x":-0.038,"y":-0.008},{"x":-0.03,"y":-0.014},{"x":-0.025,"y":-0.024},{"x":-0.018,"y":-0.012},{"x":-0.01,"y":-0.022},{"x":-0.005,"y":-0.032},{"x":0.002,"y":-0.018},{"x":0.008,"y":-0.028},{"x":0.012,"y":-0.04},{"x":0.018,"y":-0.026},{"x":0.025,"y":-0.038},{"x":0.03,"y":-0.05},{"x":0.035,"y":-0.034},{"x":0.042,"y":-0.046},{"x":0.048,"y":-0.09},{"x":0.052,"y":-0.07},{"x":0.06,"y":-0.083},{"x":0.066,"y":-0.097},{"x":0.07,"y":-0.075},{"x":0.078,"y":-0.088},{"x":0.084,"y":-0.106},{"x":0.09,"y":-0.072},{"x":0.095,"y":-0.097},{"x":0.1,"y":-0.116},{"x":0.106,"y":-0.084},{"x":0.112,"y":-0.126},{"x":0.117,"y":-0.103},{"x":0.122,"y":-0.137},{"x":0.128,"y":-0.116},{"x":0.133,"y":-0.142},{"x":0.138,"y":-0.075},{"x":0.143,"y":-0.129},{"x":0.148,"y":-0.142},{"x":0.152,"y":-0.067},{"x":0.156,"y":-0.119},{"x":0.162,"y":-0.134},{"x":0.166,"y":-0.084},{"x":0.171,"y":-0.11},{"x":0.177,"y":-0.072},{"x":0.182,"y":-0.097},{"x":0.188,"y":-0.116},{"x":0.193,"y":-0.077},{"x":0.2,"y":-0.071},{"x":0.205,"y":-0.084},{"x":0.21,"y":-0.065},{"x":0.215,"y":-0.075},{"x":0.22,"y":-0.054},{"x":0.225,"y":-0.067},{"x":0.23,"y":-0.045},{"x":0.236,"y":-0.058},{"x":0.242,"y":-0.036},{"x":0.248,"y":-0.046},{"x":0.254,"y":-0.026},{"x":0.26,"y":-0.036},{"x":0.265,"y":-0.015},{"x":0.27,"y":-0.026},{"x":0.276,"y":-0.005},{"x":0.282,"y":0.005},{"x":0.288,"y":-0.01},{"x":0.294,"y":0.015},{"x":0.3,"y":0.026},{"x":0.305,"y":0.006},{"x":0.31,"y":0.039},
{"x":0.315,"y":0.06},{"x":0.32,"y":0.033},{"x":0.326,"y":0.074},{"x":0.332,"y":0.053},{"x":0.336,"y":0.088},{"x":0.342,"y":0.067},{"x":0.348,"y":0.104},{"x":0.352,"y":0.082},{"x":0.358,"y":0.117},{"x":0.364,"y":0.096},{"x":0.37,"y":0.126},{"x":0.376,"y":0.109},{"x":0.38,"y":0.082},{"x":0.386,"y":0.133},{"x":0.39,"y":0.093},{"x":0.396,"y":0.117},{"x":0.402,"y":0.16},{"x":0.41,"y":0.104},{"x":0.416,"y":0.162},{"x":0.42,"y":0.082},{"x":0.428,"y":0.161},{"x":0.432,"y":0.069},{"x":0.44,"y":0.16},{"x":0.444,"y":0.1},{"x":0.45,"y":0.09},{"x":0.456,"y":0.137},{"x":0.462,"y":0.133},{"x":0.466,"y":0.077},{"x":0.472,"y":0.096},{"x":0.478,"y":0.117},{"x":0.484,"y":0.104},{"x":0.49,"y":0.122},{"x":0.496,"y":0.096},{"x":0.502,"y":0.113},{"x":0.508,"y":0.126},{"x":0.514,"y":0.117},{"x":0.52,"y":0.133},{"x":0.526,"y":0.12},{"x":0.532,"y":0.128},{"x":0.538,"y":0.114},{"x":0.544,"y":0.13},{"x":0.55,"y":0.124},{"x":0.556,"y":0.133},{"x":0.562,"y":0.128},{"x":0.568,"y":0.136},{"x":0.574,"y":0.132},{"x":0.58,"y":0.138},{"x":0.585,"y":0.14},{"x":0.59,"y":0.142},
{"x":-0.06,"y":0},{"x":-0.045,"y":-0.012},{"x":-0.03,"y":-0.02},{"x":-0.015,"y":-0.03},{"x":0,"y":-0.04},{"x":0.015,"y":-0.05},{"x":0.03,"y":-0.06},{"x":0.045,"y":-0.07},{"x":0.06,"y":-0.078},{"x":0.075,"y":-0.085},{"x":0.09,"y":-0.1},{"x":0.105,"y":-0.115},{"x":0.115,"y":-0.128},{"x":-0.05,"y":-0.03},{"x":-0.03,"y":-0.045},{"x":-0.01,"y":-0.055},{"x":0.01,"y":-0.07},{"x":0.03,"y":-0.085},{"x":0.05,"y":-0.095},{"x":0.13,"y":-0.05},{"x":0.16,"y":-0.055},{"x":0.186,"y":-0.055},{"x":0.2,"y":-0.062},{"x":0.215,"y":-0.055},{"x":0.231,"y":-0.044},{"x":0.245,"y":-0.035},{"x":0.255,"y":-0.025},{"x":0.265,"y":-0.015},{"x":0.275,"y":0},{"x":0.288,"y":0.02},{"x":0.3,"y":0.035},{"x":0.31,"y":0.054},{"x":0.325,"y":0.075},{"x":0.343,"y":0.095},{"x":0.355,"y":0.11},{"x":0.37,"y":0.12},{"x":0.39,"y":0.13},{"x":0.41,"y":0.125},{"x":0.43,"y":0.115},{"x":0.45,"y":0.11},{"x":0.47,"y":0.1},{"x":0.49,"y":0.105},{"x":0.51,"y":0.115},{"x":0.53,"y":0.12},{"x":0.55,"y":0.125},{"x":0.57,"y":0.13}]
},
"resolve":{"scale":{"color":"independent","shape":"independent"},"legend":{"color":"independent","shape":"independent"}},
"spacing":31,
"vconcat":[
{"hconcat":[
 {"hconcat":[
  {"width":1,"height":1,"view":{"stroke":null},"data":{"values":[{}]},"mark":"text","encoding":{"text":{"value":""}}},
  {"vconcat":[
   {"width":1,"height":1,"view":{"stroke":null},"data":{"values":[{}]},"mark":"text","encoding":{"text":{"value":""}}},
   {"width":464,"height":254,"view":{"stroke":null},
    "title":{"text":"(a)","orient":"bottom","frame":"group","anchor":"middle","offset":7.6,"dx":-8.4,"fontSize":20},
    "data":{"name":"bars"},
    "mark":{"type":"bar","stroke":"#3a3a3a","strokeWidth":0.8},
    "encoding":{
     "x":{"field":"s","type":"nominal","sort":null,"scale":{"paddingInner":0.19,"paddingOuter":0.092},"axis":{"title":"Sample","labelAngle":0,"domain":true,"domainColor":"#333","ticks":false,"labelPadding":7.8,"labelFontSize":20,"titleFontSize":20,"titleX":220.6,"titleY":40.7}},
     "xOffset":{"field":"m","type":"nominal","sort":["Real","Linear regression","Lasso","ANN"],"scale":{"paddingInner":0,"paddingOuter":0}},
     "y":{"field":"v","type":"quantitative","scale":{"domain":[0,450],"nice":false},"axis":{"values":[0,50,100,150,200,250,300,350,400,450],"title":"Capacitance/(F/g)","titleX":-67.4,"titleY":123,"domain":true,"domainColor":"#333","tickSize":-4,"tickColor":"#333","labelPadding":10.4,"labelFontSize":20,"titleFontSize":20}},
     "color":{"field":"m","type":"nominal","sort":["Real","Linear regression","Lasso","ANN"],"scale":{"domain":["Real","Linear regression","Lasso","ANN"],"range":["#e5282b","#e6833b","#8fc750","#2b8dd4"]},
      "legend":{"title":null,"orient":"none","legendX":81.8,"legendY":-20.2,"padding":0,"symbolType":"M-2.065,-1H2.065V1H-2.065Z","symbolSize":400,"symbolStrokeColor":"#333","symbolStrokeWidth":1,"labelFontSize":19.5,"rowPadding":2.3,"labelOffset":25.3,"symbolOffset":10.15}}
    }
   }
  ],"spacing":5.5,"resolve":{"scale":{"color":"independent","shape":"independent"},"legend":{"color":"independent","shape":"independent"}}}
 ],"spacing":42.6,"resolve":{"scale":{"color":"independent","shape":"independent"},"legend":{"color":"independent","shape":"independent"}}},
 {"width":372,"height":290,"view":{"stroke":"#555","strokeWidth":1},
  "title":{"text":"(b)","orient":"bottom","frame":"group","anchor":"middle","offset":2,"dx":8,"fontSize":20},
  "encoding":{"x":{"field":"x","type":"quantitative","scale":{"domain":[0,695],"nice":false,"zero":false},"axis":{"values":[0,100,200,300,400,500,600],"title":"Average strain/udef","titleX":186.5,"titleY":41.7,"tickSize":-4,"tickColor":"#333","labelPadding":13,"labelFontSize":19,"titleFontSize":20}}},
  "layer":[
   {"data":{"name":"model"},"mark":{"type":"line","strokeWidth":1.3},
    "encoding":{"y":{"field":"y","type":"quantitative","scale":{"domain":[70.33,100],"nice":false,"zero":false},"axis":null},
     "color":{"datum":"Model","type":"nominal","scale":{"domain":["Experiment","Model","Relative error"],"range":["#3b5cc6","#ef5a42","#333333"]},
      "legend":{"title":null,"orient":"none","legendX":206,"legendY":13.55,"symbolSize":56,"symbolStrokeWidth":1.5,"labelFontSize":19.5,"rowPadding":2.2,"labelOffset":13,"padding":0}}}},
   {"data":{"name":"exp"},"mark":{"type":"point","filled":false,"size":56,"strokeWidth":1.3,"opacity":1},
    "encoding":{"y":{"field":"y","type":"quantitative","scale":{"domain":[70.33,100],"nice":false,"zero":false},"axis":{"values":[75,80,85,90,95,100],"title":"SOHe/%","titleX":-47.6,"titleY":145,"tickSize":-4,"tickColor":"#333","labelPadding":9.2,"labelFontSize":19,"titleFontSize":19.5}},
     "color":{"datum":"Experiment","type":"nominal"},
     "shape":{"datum":"Experiment","type":"nominal","scale":{"domain":["Experiment","Model","Relative error"],"range":["circle","M-4.65,0H5.77","square"]}}}},
   {"data":{"name":"err"},"mark":{"type":"point","filled":false,"size":45,"strokeWidth":1.2,"opacity":1},
    "encoding":{"y":{"field":"e","type":"quantitative","scale":{"domain":[0.189,1.382],"nice":false,"zero":false},"axis":{"orient":"right","values":[0.2,0.4,0.6,0.8,1,1.2],"format":".1~f","title":"Relative error/%","titleAngle":270,"titleX":45.9,"titleY":145,"tickSize":-4,"tickColor":"#333","labelPadding":9.5,"labelFontSize":19,"titleFontSize":19.5}},
     "color":{"datum":"Relative error","type":"nominal"},
     "shape":{"datum":"Relative error","type":"nominal"}}}
  ],
  "resolve":{"scale":{"y":"independent"}}
 }
],"spacing":58.4,"resolve":{"scale":{"color":"independent","shape":"independent"},"legend":{"color":"independent","shape":"independent"}}},
{"hconcat":[
 {"width":1,"height":781,"view":{"stroke":null},"data":{"values":[{}]},"mark":"text","encoding":{"text":{"value":""},"y":{"datum":0,"type":"quantitative","scale":{"domain":[0,1]},"axis":{"orient":"left","domain":true,"domainDash":[9,5],"domainColor":"#111","domainWidth":2,"ticks":false,"labels":false,"title":null}}}},
 {"vconcat":[
  {"width":1170,"height":1,"view":{"stroke":null},"data":{"values":[{}]},"mark":"text","encoding":{"text":{"value":""},"x":{"datum":0,"type":"quantitative","scale":{"domain":[0,1]},"axis":{"orient":"top","domain":true,"domainDash":[9,5],"domainColor":"#111","domainWidth":2,"ticks":false,"labels":false,"title":null}}}},
  {"vconcat":[
   {"vconcat":[
    {"hconcat":[
     {"width":1,"height":1,"view":{"stroke":null},"data":{"values":[{}]},"mark":"text","encoding":{"text":{"value":""}}},
     {"hconcat":[
      {"width":323,"height":303,"view":{"stroke":"#8c8c8c","strokeWidth":2},
       "title":{"text":["5 mV/s","MSE: 0.0022, R²: 0.6721"]},
       "encoding":{
        "x":{"field":"x","type":"quantitative","scale":{"domain":[-0.447,0.64],"nice":false,"zero":false},"axis":{"values":[-0.4,-0.2,0,0.2,0.4,0.6],"format":".1~f","title":"Potential/V","titleX":161.5,"titleY":32,"labelPadding":7}},
        "y":{"field":"y","type":"quantitative","scale":{"domain":[-0.199,0.237],"nice":false,"zero":false},"axis":{"values":[-0.15,-0.1,-0.05,0,0.05,0.1,0.15,0.2],"labelExpr":"datum.value == 0 ? '0' : format(datum.value, '.2f')","title":"Current","titleX":-57.8,"titleY":151.5,"labelPadding":6.3}}},
       "layer":[
        {"data":{"name":"a1"},"mark":{"type":"circle","size":50,"opacity":0.9},"encoding":{"color":{"datum":"Actual","type":"nominal","scale":{"domain":["Actual","Predicted"],"range":["#2f55b4","#ee2c32"]},"legend":{"title":null,"orient":"none","legendX":12.85,"legendY":7.85,"labelFontSize":15.7,"symbolSize":45,"symbolType":"circle","rowPadding":0.3,"labelOffset":0,"padding":0}}}},
        {"data":{"name":"p1"},"mark":{"type":"circle","size":50,"opacity":0.72},"encoding":{"color":{"datum":"Predicted","type":"nominal"}}}]},
      {"width":323,"height":303,"view":{"stroke":"#8c8c8c","strokeWidth":2},
       "title":{"text":["30 mV/s","MSE: 0.0023, R²: 0.6825"]},
       "encoding":{
        "x":{"field":"x","type":"quantitative","scale":{"domain":[-0.445,0.645],"nice":false,"zero":false},"axis":{"values":[-0.4,-0.2,0,0.2,0.4,0.6],"format":".1~f","title":"Potential/V","titleX":161.5,"titleY":32,"labelPadding":7}},
        "y":{"field":"y","type":"quantitative","scale":{"domain":[-0.2066,0.2475],"nice":false,"zero":false},"axis":{"values":[-0.2,-0.1,0,0.1,0.2],"format":".1~f","title":"Current","titleX":-50,"titleY":151.5,"labelPadding":6.3}}},
       "layer":[
        {"data":{"name":"a2"},"mark":{"type":"circle","size":50,"opacity":0.9},"encoding":{"color":{"datum":"Actual","type":"nominal","scale":{"domain":["Actual","Predicted"],"range":["#2f55b4","#ee2c32"]},"legend":{"title":null,"orient":"none","legendX":12.85,"legendY":7.85,"labelFontSize":15.7,"symbolSize":45,"symbolType":"circle","rowPadding":0.3,"labelOffset":0,"padding":0}}}},
        {"data":{"name":"p2"},"mark":{"type":"circle","size":50,"opacity":0.72},"encoding":{"color":{"datum":"Predicted","type":"nominal"}}}]},
      {"width":322,"height":303,"view":{"stroke":"#8c8c8c","strokeWidth":2},
       "title":{"text":["60 mV/s","MSE: 0.0025, R²: 0.6914"]},
       "encoding":{
        "x":{"field":"x","type":"quantitative","scale":{"domain":[-0.4436,0.636],"nice":false,"zero":false},"axis":{"values":[-0.4,-0.2,0,0.2,0.4,0.6],"format":".1~f","title":"Potential/V","titleX":161,"titleY":32,"labelPadding":7}},
        "y":{"field":"y","type":"quantitative","scale":{"domain":[-0.2156,0.257],"nice":false,"zero":false},"axis":{"values":[-0.2,-0.1,0,0.1,0.2],"format":".1~f","title":"Current","titleX":-47.5,"titleY":151.5,"labelPadding":6.3}}},
       "layer":[
        {"data":{"name":"a3"},"mark":{"type":"circle","size":50,"opacity":0.9},"encoding":{"color":{"datum":"Actual","type":"nominal","scale":{"domain":["Actual","Predicted"],"range":["#2f55b4","#ee2c32"]},"legend":{"title":null,"orient":"none","legendX":12.85,"legendY":7.85,"labelFontSize":15.7,"symbolSize":45,"symbolType":"circle","rowPadding":0.3,"labelOffset":0,"padding":0}}}},
        {"data":{"name":"p3"},"mark":{"type":"circle","size":50,"opacity":0.72},"encoding":{"color":{"datum":"Predicted","type":"nominal"}}}]}
     ],"spacing":0,"resolve":{"scale":{"color":"independent","shape":"independent"},"legend":{"color":"independent","shape":"independent"}}}
    ],"spacing":0,"resolve":{"scale":{"color":"independent","shape":"independent"},"legend":{"color":"independent","shape":"independent"}}},
    {"hconcat":[
     {"width":1,"height":1,"view":{"stroke":null},"data":{"values":[{}]},"mark":"text","encoding":{"text":{"value":""}}},
     {"hconcat":[
      {"width":323,"height":304,"view":{"stroke":"#8c8c8c","strokeWidth":2},
       "title":{"text":["80 mV/s","MSE: 0.0028, R²: 0.6936"]},
       "encoding":{
        "x":{"field":"x","type":"quantitative","scale":{"domain":[-0.4426,0.64],"nice":false,"zero":false},"axis":{"values":[-0.4,-0.2,0,0.2,0.4,0.6],"format":".1~f","title":"Potential/V","titleX":161.5,"titleY":35,"labelPadding":7}},
        "y":{"field":"y","type":"quantitative","scale":{"domain":[-0.2305,0.274],"nice":false,"zero":false},"axis":{"values":[-0.2,-0.1,0,0.1,0.2],"format":".1~f","title":"Current","titleX":-58.5,"titleY":152,"labelPadding":6.3}}},
       "layer":[
        {"data":{"name":"a4"},"mark":{"type":"circle","size":50,"opacity":0.9},"encoding":{"color":{"datum":"Actual","type":"nominal","scale":{"domain":["Actual","Predicted"],"range":["#2f55b4","#ee2c32"]},"legend":{"title":null,"orient":"none","legendX":12.85,"legendY":7.85,"labelFontSize":15.7,"symbolSize":45,"symbolType":"circle","rowPadding":0.3,"labelOffset":0,"padding":0}}}},
        {"data":{"name":"p4"},"mark":{"type":"circle","size":50,"opacity":0.72},"encoding":{"color":{"datum":"Predicted","type":"nominal"}}}]},
      {"width":323,"height":304,"view":{"stroke":"#8c8c8c","strokeWidth":2},
       "title":{"text":["100 mV/s","MSE: 0.0030, R²: 0.6956"]},
       "encoding":{
        "x":{"field":"x","type":"quantitative","scale":{"domain":[-0.445,0.645],"nice":false,"zero":false},"axis":{"values":[-0.4,-0.2,0,0.2,0.4,0.6],"format":".1~f","title":"Potential/V","titleX":161.5,"titleY":35,"labelPadding":7}},
        "y":{"field":"y","type":"quantitative","scale":{"domain":[-0.2406,0.2857],"nice":false,"zero":false},"axis":{"values":[-0.2,-0.1,0,0.1,0.2],"format":".1~f","title":"Current","titleX":-47,"titleY":152,"labelPadding":6.3}}},
       "layer":[
        {"data":{"name":"a5"},"mark":{"type":"circle","size":50,"opacity":0.9},"encoding":{"color":{"datum":"Actual","type":"nominal","scale":{"domain":["Actual","Predicted"],"range":["#2f55b4","#ee2c32"]},"legend":{"title":null,"orient":"none","legendX":12.85,"legendY":7.85,"labelFontSize":15.7,"symbolSize":45,"symbolType":"circle","rowPadding":0.3,"labelOffset":0,"padding":0}}}},
        {"data":{"name":"p5"},"mark":{"type":"circle","size":50,"opacity":0.72},"encoding":{"color":{"datum":"Predicted","type":"nominal"}}}]}
     ],"spacing":0,"resolve":{"scale":{"color":"independent","shape":"independent"},"legend":{"color":"independent","shape":"independent"}}}
    ],"spacing":0,"resolve":{"scale":{"color":"independent","shape":"independent"},"legend":{"color":"independent","shape":"independent"}}}
   ],"spacing":-2.3,"resolve":{"scale":{"color":"independent","shape":"independent"},"legend":{"color":"independent","shape":"independent"}}},
   {"width":1170,"height":1,"view":{"stroke":null},
    "title":{"text":"(c)","orient":"bottom","frame":"group","anchor":"middle","offset":10,"dx":13.5,"fontSize":20},
    "data":{"values":[{}]},"mark":"text","encoding":{"text":{"value":""},"x":{"datum":0,"type":"quantitative","scale":{"domain":[0,1]},"axis":{"orient":"top","domain":true,"domainDash":[9,5],"domainColor":"#111","domainWidth":2,"ticks":false,"labels":false,"title":null}}}}
  ],"spacing":0.3,"resolve":{"scale":{"color":"independent","shape":"independent"},"legend":{"color":"independent","shape":"independent"}}}
 ],"spacing":-3,"resolve":{"scale":{"color":"independent","shape":"independent"},"legend":{"color":"independent","shape":"independent"}}},
 {"width":1,"height":781,"view":{"stroke":null},"data":{"values":[{}]},"mark":"text","encoding":{"text":{"value":""},"y":{"datum":0,"type":"quantitative","scale":{"domain":[0,1]},"axis":{"orient":"left","domain":true,"domainDash":[9,5],"domainColor":"#111","domainWidth":2,"ticks":false,"labels":false,"title":null}}}}
],"spacing":0,"resolve":{"scale":{"color":"independent","shape":"independent"},"legend":{"color":"independent","shape":"independent"}}}
]
}
